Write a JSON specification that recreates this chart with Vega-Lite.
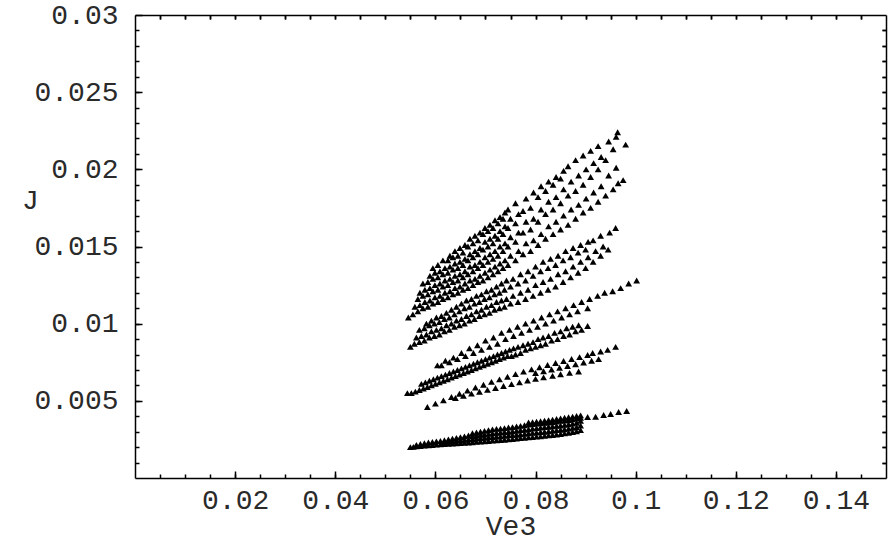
{
"$schema": "https://vega.github.io/schema/vega-lite/v6.json",
"width": 751, "height": 463,
"autosize": {"type": "none"},
"padding": {"left": 135, "top": 15, "right": 3, "bottom": 72},
"background": "white",
"config": {"view": {"stroke": null}},
"data": {"values": [
{"x":0.0546,"y":0.0104},
{"x":0.0555,"y":0.0106},{"x":0.0559,"y":0.0111},
{"x":0.0565,"y":0.0108},{"x":0.0569,"y":0.0112},{"x":0.0565,"y":0.0116},{"x":0.0569,"y":0.012},
{"x":0.0575,"y":0.011},{"x":0.0579,"y":0.0114},{"x":0.0575,"y":0.0118},{"x":0.0579,"y":0.0122},{"x":0.0575,"y":0.0126},
{"x":0.0585,"y":0.0111},{"x":0.0589,"y":0.0115},{"x":0.0585,"y":0.0119},{"x":0.0589,"y":0.0123},{"x":0.0585,"y":0.0127},{"x":0.0589,"y":0.0131},
{"x":0.0595,"y":0.0113},{"x":0.0599,"y":0.0117},{"x":0.0595,"y":0.0121},{"x":0.0599,"y":0.0125},{"x":0.0595,"y":0.0129},{"x":0.0599,"y":0.0133},{"x":0.0595,"y":0.0136},
{"x":0.0605,"y":0.0114},{"x":0.0609,"y":0.0118},{"x":0.0605,"y":0.0122},{"x":0.0609,"y":0.0126},{"x":0.0605,"y":0.013},{"x":0.0609,"y":0.0134},{"x":0.0605,"y":0.0138},
{"x":0.0615,"y":0.0116},{"x":0.0619,"y":0.012},{"x":0.0615,"y":0.0124},{"x":0.0619,"y":0.0128},{"x":0.0615,"y":0.0132},{"x":0.0619,"y":0.0136},{"x":0.0615,"y":0.0141},
{"x":0.0625,"y":0.0117},{"x":0.0629,"y":0.0121},{"x":0.0625,"y":0.0125},{"x":0.0629,"y":0.0129},{"x":0.0625,"y":0.0133},{"x":0.0629,"y":0.0137},{"x":0.0625,"y":0.0141},{"x":0.0629,"y":0.0144},
{"x":0.0635,"y":0.0119},{"x":0.0639,"y":0.0123},{"x":0.0635,"y":0.0127},{"x":0.0639,"y":0.0131},{"x":0.0635,"y":0.0135},{"x":0.0639,"y":0.0139},{"x":0.0635,"y":0.0143},{"x":0.0639,"y":0.0147},
{"x":0.0645,"y":0.012},{"x":0.0649,"y":0.0124},{"x":0.0645,"y":0.0128},{"x":0.0649,"y":0.0132},{"x":0.0645,"y":0.0136},{"x":0.0649,"y":0.014},{"x":0.0645,"y":0.0144},{"x":0.0649,"y":0.0149},
{"x":0.0655,"y":0.0122},{"x":0.0659,"y":0.0126},{"x":0.0655,"y":0.013},{"x":0.0659,"y":0.0134},{"x":0.0655,"y":0.0138},{"x":0.0659,"y":0.0142},{"x":0.0655,"y":0.0146},{"x":0.0659,"y":0.0151},
{"x":0.0665,"y":0.0123},{"x":0.0669,"y":0.0128},{"x":0.0665,"y":0.0132},{"x":0.0669,"y":0.0137},{"x":0.0665,"y":0.0141},{"x":0.0669,"y":0.0145},{"x":0.0665,"y":0.015},{"x":0.0669,"y":0.0155},
{"x":0.0675,"y":0.0125},{"x":0.0679,"y":0.0129},{"x":0.0675,"y":0.0134},{"x":0.0679,"y":0.0138},{"x":0.0675,"y":0.0143},{"x":0.0679,"y":0.0147},{"x":0.0675,"y":0.0152},{"x":0.0679,"y":0.0157},
{"x":0.0685,"y":0.0127},{"x":0.0689,"y":0.0131},{"x":0.0685,"y":0.0136},{"x":0.0689,"y":0.014},{"x":0.0685,"y":0.0145},{"x":0.0689,"y":0.0149},{"x":0.0685,"y":0.0154},{"x":0.0689,"y":0.0159},
{"x":0.0695,"y":0.0128},{"x":0.0699,"y":0.0133},{"x":0.0695,"y":0.0138},{"x":0.0699,"y":0.0143},{"x":0.0695,"y":0.0148},{"x":0.0699,"y":0.0153},{"x":0.0695,"y":0.0158},{"x":0.0699,"y":0.0162},
{"x":0.0705,"y":0.013},{"x":0.0709,"y":0.0135},{"x":0.0705,"y":0.014},{"x":0.0709,"y":0.0145},{"x":0.0705,"y":0.015},{"x":0.0709,"y":0.0155},{"x":0.0705,"y":0.016},{"x":0.0709,"y":0.0164},
{"x":0.0715,"y":0.0132},{"x":0.0719,"y":0.0137},{"x":0.0715,"y":0.0142},{"x":0.0719,"y":0.0147},{"x":0.0715,"y":0.0152},{"x":0.0719,"y":0.0157},{"x":0.0715,"y":0.0162},{"x":0.0719,"y":0.0167},
{"x":0.0725,"y":0.0134},{"x":0.0729,"y":0.0139},{"x":0.0725,"y":0.0144},{"x":0.0729,"y":0.015},{"x":0.0725,"y":0.0155},{"x":0.0729,"y":0.016},{"x":0.0725,"y":0.0165},{"x":0.0729,"y":0.0169},
{"x":0.0735,"y":0.0136},{"x":0.0739,"y":0.0141},{"x":0.0735,"y":0.0147},{"x":0.0739,"y":0.0152},{"x":0.0735,"y":0.0158},{"x":0.0739,"y":0.0163},{"x":0.0735,"y":0.0168},{"x":0.0739,"y":0.0172},
{"x":0.0745,"y":0.0138},{"x":0.075,"y":0.0144},{"x":0.0745,"y":0.015},{"x":0.075,"y":0.0156},{"x":0.0745,"y":0.0162},{"x":0.075,"y":0.0168},{"x":0.0745,"y":0.0174},
{"x":0.076,"y":0.0141},{"x":0.0766,"y":0.0147},{"x":0.076,"y":0.0153},{"x":0.0766,"y":0.0159},{"x":0.076,"y":0.0165},{"x":0.0766,"y":0.0171},{"x":0.076,"y":0.0178},
{"x":0.0775,"y":0.0145},{"x":0.0781,"y":0.0152},{"x":0.0775,"y":0.0159},{"x":0.0781,"y":0.0166},{"x":0.0775,"y":0.0173},{"x":0.0781,"y":0.0181},
{"x":0.079,"y":0.0147},{"x":0.0796,"y":0.0154},{"x":0.079,"y":0.0161},{"x":0.0796,"y":0.0168},{"x":0.079,"y":0.0175},{"x":0.0796,"y":0.0185},
{"x":0.0805,"y":0.0151},{"x":0.0811,"y":0.0158},{"x":0.0805,"y":0.0166},{"x":0.0811,"y":0.0174},{"x":0.0805,"y":0.0182},{"x":0.0811,"y":0.0189},
{"x":0.082,"y":0.0155},{"x":0.0826,"y":0.0163},{"x":0.082,"y":0.0171},{"x":0.0826,"y":0.0179},{"x":0.082,"y":0.0186},{"x":0.0826,"y":0.0192},
{"x":0.0835,"y":0.0158},{"x":0.0841,"y":0.0166},{"x":0.0835,"y":0.0174},{"x":0.0841,"y":0.0182},{"x":0.0835,"y":0.019},{"x":0.0841,"y":0.0195},
{"x":0.085,"y":0.0161},{"x":0.0856,"y":0.017},{"x":0.085,"y":0.0178},{"x":0.0856,"y":0.0187},{"x":0.085,"y":0.0194},{"x":0.0856,"y":0.0199},
{"x":0.0865,"y":0.0164},{"x":0.0871,"y":0.0174},{"x":0.0865,"y":0.0183},{"x":0.0871,"y":0.0192},{"x":0.0865,"y":0.0202},
{"x":0.088,"y":0.0168},{"x":0.0886,"y":0.0177},{"x":0.088,"y":0.0186},{"x":0.0886,"y":0.0196},{"x":0.088,"y":0.0206},
{"x":0.0895,"y":0.0172},{"x":0.0901,"y":0.0181},{"x":0.0895,"y":0.019},{"x":0.0901,"y":0.02},{"x":0.0895,"y":0.0209},
{"x":0.091,"y":0.0175},{"x":0.0916,"y":0.0185},{"x":0.091,"y":0.0195},{"x":0.0916,"y":0.0204},{"x":0.091,"y":0.0212},
{"x":0.0925,"y":0.0179},{"x":0.0931,"y":0.0189},{"x":0.0925,"y":0.02},{"x":0.0931,"y":0.0208},{"x":0.0925,"y":0.0215},
{"x":0.094,"y":0.0183},{"x":0.0946,"y":0.0196},{"x":0.094,"y":0.0206},{"x":0.0946,"y":0.0218},
{"x":0.0955,"y":0.0187},{"x":0.0961,"y":0.0201},{"x":0.0955,"y":0.0213},{"x":0.0961,"y":0.0221},
{"x":0.0965,"y":0.0191},{"x":0.0964,"y":0.0224},
{"x":0.0975,"y":0.0193},{"x":0.098,"y":0.0216},
{"x":0.055,"y":0.0085},
{"x":0.0558,"y":0.0087},{"x":0.0562,"y":0.0091},
{"x":0.0568,"y":0.0088},{"x":0.0572,"y":0.0092},{"x":0.0568,"y":0.0096},
{"x":0.0578,"y":0.0089},{"x":0.0582,"y":0.0093},{"x":0.0578,"y":0.0097},{"x":0.0582,"y":0.01},
{"x":0.0588,"y":0.0091},{"x":0.0592,"y":0.0095},{"x":0.0588,"y":0.0099},{"x":0.0592,"y":0.0102},
{"x":0.0598,"y":0.0092},{"x":0.0602,"y":0.0096},{"x":0.0598,"y":0.01},{"x":0.0602,"y":0.0104},
{"x":0.0608,"y":0.0093},{"x":0.0612,"y":0.0097},{"x":0.0608,"y":0.0101},{"x":0.0612,"y":0.0105},
{"x":0.0618,"y":0.0095},{"x":0.0622,"y":0.0099},{"x":0.0618,"y":0.0103},{"x":0.0622,"y":0.0107},
{"x":0.0628,"y":0.0096},{"x":0.0632,"y":0.01},{"x":0.0628,"y":0.0104},{"x":0.0632,"y":0.0109},
{"x":0.0638,"y":0.0098},{"x":0.0642,"y":0.0102},{"x":0.0638,"y":0.0106},{"x":0.0642,"y":0.0111},
{"x":0.0648,"y":0.0099},{"x":0.0652,"y":0.0103},{"x":0.0648,"y":0.0108},{"x":0.0652,"y":0.0113},
{"x":0.0658,"y":0.01},{"x":0.0662,"y":0.0105},{"x":0.0658,"y":0.011},{"x":0.0662,"y":0.0115},
{"x":0.0668,"y":0.0102},{"x":0.0672,"y":0.0106},{"x":0.0668,"y":0.0111},{"x":0.0672,"y":0.0116},
{"x":0.0678,"y":0.0103},{"x":0.0682,"y":0.0108},{"x":0.0678,"y":0.0113},{"x":0.0682,"y":0.0118},
{"x":0.0688,"y":0.0105},{"x":0.0692,"y":0.0109},{"x":0.0688,"y":0.0114},{"x":0.0692,"y":0.0119},
{"x":0.0698,"y":0.0106},{"x":0.0702,"y":0.0111},{"x":0.0698,"y":0.0116},{"x":0.0702,"y":0.0121},
{"x":0.0708,"y":0.0107},{"x":0.0712,"y":0.0112},{"x":0.0708,"y":0.0117},{"x":0.0712,"y":0.0122},
{"x":0.0718,"y":0.0109},{"x":0.0722,"y":0.0114},{"x":0.0718,"y":0.0119},{"x":0.0722,"y":0.0124},
{"x":0.0728,"y":0.011},{"x":0.0732,"y":0.0115},{"x":0.0728,"y":0.012},{"x":0.0732,"y":0.0126},
{"x":0.0738,"y":0.0111},{"x":0.0742,"y":0.0116},{"x":0.0738,"y":0.0122},{"x":0.0742,"y":0.0128},
{"x":0.075,"y":0.0113},{"x":0.0755,"y":0.0118},{"x":0.075,"y":0.0124},{"x":0.0755,"y":0.0129},
{"x":0.0765,"y":0.0114},{"x":0.077,"y":0.012},{"x":0.0765,"y":0.0126},{"x":0.077,"y":0.0132},
{"x":0.078,"y":0.0116},{"x":0.0785,"y":0.0122},{"x":0.078,"y":0.0128},{"x":0.0785,"y":0.0134},
{"x":0.0795,"y":0.0118},{"x":0.08,"y":0.0125},{"x":0.0795,"y":0.0131},{"x":0.08,"y":0.0137},
{"x":0.081,"y":0.012},{"x":0.0815,"y":0.0127},{"x":0.081,"y":0.0134},{"x":0.0815,"y":0.014},
{"x":0.0825,"y":0.0122},{"x":0.083,"y":0.0129},{"x":0.0825,"y":0.0136},{"x":0.083,"y":0.0142},
{"x":0.084,"y":0.0124},{"x":0.0845,"y":0.0132},{"x":0.084,"y":0.0138},{"x":0.0845,"y":0.0144},
{"x":0.0855,"y":0.0127},{"x":0.086,"y":0.0134},{"x":0.0855,"y":0.0141},{"x":0.086,"y":0.0147},
{"x":0.087,"y":0.013},{"x":0.0875,"y":0.0137},{"x":0.087,"y":0.0143},{"x":0.0875,"y":0.0149},
{"x":0.0885,"y":0.0133},{"x":0.089,"y":0.014},{"x":0.0885,"y":0.0146},{"x":0.089,"y":0.0151},
{"x":0.09,"y":0.0136},{"x":0.0905,"y":0.0143},{"x":0.09,"y":0.0148},{"x":0.0905,"y":0.0153},
{"x":0.0915,"y":0.014},{"x":0.092,"y":0.0147},{"x":0.0915,"y":0.0154},
{"x":0.093,"y":0.0144},{"x":0.0935,"y":0.015},{"x":0.093,"y":0.0157},
{"x":0.0945,"y":0.0148},{"x":0.0948,"y":0.0159},
{"x":0.096,"y":0.0162},
{"x":0.0544,"y":0.0055},{"x":0.0552,"y":0.0055},{"x":0.056,"y":0.0056},{"x":0.0568,"y":0.0057},{"x":0.0576,"y":0.0058},{"x":0.0584,"y":0.0059},{"x":0.0592,"y":0.006},{"x":0.06,"y":0.0061},{"x":0.0608,"y":0.0062},{"x":0.0616,"y":0.0063},{"x":0.0624,"y":0.0064},{"x":0.0632,"y":0.0065},{"x":0.064,"y":0.0066},{"x":0.0648,"y":0.0067},{"x":0.0656,"y":0.0068},{"x":0.0664,"y":0.0069},{"x":0.0672,"y":0.007},{"x":0.068,"y":0.0071},{"x":0.0688,"y":0.0072},{"x":0.0696,"y":0.0073},{"x":0.0704,"y":0.0074},{"x":0.0712,"y":0.0075},{"x":0.072,"y":0.0076},{"x":0.0728,"y":0.0077},{"x":0.0736,"y":0.0078},{"x":0.0744,"y":0.0079},{"x":0.0752,"y":0.0079},{"x":0.076,"y":0.008},{"x":0.077,"y":0.0081},{"x":0.078,"y":0.0083},{"x":0.079,"y":0.0084},{"x":0.08,"y":0.0085},{"x":0.081,"y":0.0086},{"x":0.082,"y":0.0087},{"x":0.0832,"y":0.0089},{"x":0.0844,"y":0.009},{"x":0.0856,"y":0.0092},{"x":0.0868,"y":0.0093},{"x":0.088,"y":0.0095},{"x":0.0892,"y":0.0096},{"x":0.0904,"y":0.00985},
{"x":0.0572,"y":0.0061},{"x":0.058,"y":0.0062},{"x":0.0588,"y":0.0063},{"x":0.0596,"y":0.0064},{"x":0.0604,"y":0.0065},{"x":0.0612,"y":0.0066},{"x":0.062,"y":0.0067},{"x":0.0628,"y":0.0068},{"x":0.0636,"y":0.0069},{"x":0.0644,"y":0.007},{"x":0.0652,"y":0.0071},{"x":0.066,"y":0.0072},{"x":0.0668,"y":0.0073},{"x":0.0676,"y":0.0074},{"x":0.0684,"y":0.0075},{"x":0.0692,"y":0.0076},{"x":0.07,"y":0.0077},{"x":0.0708,"y":0.0078},{"x":0.0716,"y":0.0079},{"x":0.0724,"y":0.008},{"x":0.0732,"y":0.0081},{"x":0.074,"y":0.0082},{"x":0.0748,"y":0.0083},{"x":0.0756,"y":0.0084},{"x":0.0765,"y":0.0085},{"x":0.0775,"y":0.0086},{"x":0.0785,"y":0.0087},{"x":0.0795,"y":0.0088},{"x":0.0805,"y":0.009},{"x":0.0815,"y":0.0091},{"x":0.0826,"y":0.0092},{"x":0.0838,"y":0.0094},{"x":0.085,"y":0.0095},{"x":0.0862,"y":0.0097},{"x":0.0874,"y":0.0098},{"x":0.0886,"y":0.0099},
{"x":0.0604,"y":0.0073},{"x":0.062,"y":0.0076},{"x":0.0636,"y":0.0078},{"x":0.0652,"y":0.0081},{"x":0.0668,"y":0.0084},{"x":0.0684,"y":0.0086},{"x":0.07,"y":0.0089},{"x":0.0716,"y":0.0091},{"x":0.0732,"y":0.0094},{"x":0.0748,"y":0.0096},{"x":0.0764,"y":0.0098},{"x":0.078,"y":0.01},{"x":0.0796,"y":0.0102},{"x":0.0812,"y":0.0104},{"x":0.0828,"y":0.0106},{"x":0.0844,"y":0.0108},{"x":0.086,"y":0.011},{"x":0.0876,"y":0.0112},{"x":0.0892,"y":0.0114},{"x":0.0908,"y":0.0116},{"x":0.0924,"y":0.0118},{"x":0.0938,"y":0.012},{"x":0.0954,"y":0.0121},{"x":0.097,"y":0.0123},{"x":0.0986,"y":0.0126},{"x":0.1002,"y":0.0128},
{"x":0.0612,"y":0.0073},{"x":0.0628,"y":0.0075},{"x":0.0644,"y":0.0077},{"x":0.066,"y":0.0079},{"x":0.0676,"y":0.0081},{"x":0.0692,"y":0.0083},{"x":0.0708,"y":0.0085},{"x":0.0724,"y":0.0087},{"x":0.074,"y":0.009},{"x":0.0756,"y":0.0092},{"x":0.0772,"y":0.0094},{"x":0.0788,"y":0.0096},{"x":0.0804,"y":0.0098},{"x":0.082,"y":0.01},{"x":0.0836,"y":0.0102},{"x":0.0852,"y":0.0104},{"x":0.0868,"y":0.0106},{"x":0.0884,"y":0.0108},{"x":0.0904,"y":0.011},
{"x":0.0584,"y":0.0046},{"x":0.06,"y":0.00482},{"x":0.0616,"y":0.00503},{"x":0.0632,"y":0.00525},{"x":0.0648,"y":0.00546},{"x":0.0664,"y":0.00566},{"x":0.068,"y":0.00586},{"x":0.0696,"y":0.00604},{"x":0.0712,"y":0.00623},{"x":0.0728,"y":0.00639},{"x":0.0744,"y":0.00656},{"x":0.076,"y":0.00673},{"x":0.0776,"y":0.00689},{"x":0.0792,"y":0.00704},{"x":0.0808,"y":0.00718},{"x":0.0824,"y":0.00732},{"x":0.084,"y":0.00745},{"x":0.0856,"y":0.00758},{"x":0.0872,"y":0.00771},{"x":0.0888,"y":0.00783},{"x":0.0904,"y":0.00797},{"x":0.0914,"y":0.0081},{"x":0.093,"y":0.0082},{"x":0.0944,"y":0.0083},{"x":0.096,"y":0.0085},
{"x":0.064,"y":0.00518},{"x":0.0656,"y":0.00533},{"x":0.0672,"y":0.00547},{"x":0.0688,"y":0.00559},{"x":0.0704,"y":0.00571},{"x":0.072,"y":0.00583},{"x":0.0736,"y":0.00596},{"x":0.0752,"y":0.00608},{"x":0.0768,"y":0.0062},{"x":0.0784,"y":0.00632},{"x":0.08,"y":0.00642},{"x":0.0816,"y":0.00652},{"x":0.0834,"y":0.00662},{"x":0.085,"y":0.00672},{"x":0.0868,"y":0.00681},{"x":0.0886,"y":0.0069},
{"x":0.08,"y":0.0068},{"x":0.0816,"y":0.00692},{"x":0.0832,"y":0.00703},{"x":0.0848,"y":0.00714},{"x":0.0864,"y":0.00726},{"x":0.088,"y":0.00737},{"x":0.0896,"y":0.00748},{"x":0.0912,"y":0.0076},{"x":0.0926,"y":0.0077},
{"x":0.055,"y":0.002},{"x":0.0556,"y":0.00202},
{"x":0.0562,"y":0.00205},{"x":0.0562,"y":0.00215},
{"x":0.057,"y":0.00207},{"x":0.057,"y":0.0022},
{"x":0.0578,"y":0.0021},{"x":0.0578,"y":0.00225},
{"x":0.0586,"y":0.00212},{"x":0.0586,"y":0.0023},
{"x":0.0594,"y":0.00214},{"x":0.0594,"y":0.00233},
{"x":0.0602,"y":0.00216},{"x":0.0602,"y":0.00237},
{"x":0.061,"y":0.00218},{"x":0.061,"y":0.0024},
{"x":0.0618,"y":0.0022},{"x":0.0618,"y":0.00232},{"x":0.0618,"y":0.00245},
{"x":0.0626,"y":0.00221},{"x":0.0626,"y":0.00236},{"x":0.0626,"y":0.0025},
{"x":0.0634,"y":0.00223},{"x":0.0634,"y":0.0024},{"x":0.0634,"y":0.00255},
{"x":0.0642,"y":0.00224},{"x":0.0642,"y":0.00242},{"x":0.0642,"y":0.0026},
{"x":0.065,"y":0.00226},{"x":0.065,"y":0.00245},{"x":0.065,"y":0.00265},
{"x":0.0658,"y":0.00228},{"x":0.0658,"y":0.00248},{"x":0.0658,"y":0.0027},
{"x":0.0666,"y":0.0023},{"x":0.0666,"y":0.0025},{"x":0.0666,"y":0.00275},
{"x":0.0674,"y":0.00232},{"x":0.0674,"y":0.00252},{"x":0.0674,"y":0.00272},{"x":0.0674,"y":0.0029},
{"x":0.0682,"y":0.00234},{"x":0.0682,"y":0.00255},{"x":0.0682,"y":0.00275},{"x":0.0682,"y":0.00295},
{"x":0.069,"y":0.00236},{"x":0.069,"y":0.00258},{"x":0.069,"y":0.0028},{"x":0.069,"y":0.003},
{"x":0.0698,"y":0.00238},{"x":0.0698,"y":0.0026},{"x":0.0698,"y":0.00282},{"x":0.0698,"y":0.00305},
{"x":0.0706,"y":0.0024},{"x":0.0706,"y":0.00263},{"x":0.0706,"y":0.00286},{"x":0.0706,"y":0.0031},
{"x":0.0714,"y":0.00242},{"x":0.0714,"y":0.00266},{"x":0.0714,"y":0.0029},{"x":0.0714,"y":0.00315},
{"x":0.0722,"y":0.00244},{"x":0.0722,"y":0.00268},{"x":0.0722,"y":0.00292},{"x":0.0722,"y":0.00318},
{"x":0.073,"y":0.00246},{"x":0.073,"y":0.0027},{"x":0.073,"y":0.00295},{"x":0.073,"y":0.0032},
{"x":0.0738,"y":0.00248},{"x":0.0738,"y":0.00273},{"x":0.0738,"y":0.00298},{"x":0.0738,"y":0.00323},
{"x":0.0746,"y":0.0025},{"x":0.0746,"y":0.00276},{"x":0.0746,"y":0.003},{"x":0.0746,"y":0.00327},
{"x":0.0754,"y":0.00253},{"x":0.0754,"y":0.00278},{"x":0.0754,"y":0.00303},{"x":0.0754,"y":0.0033},
{"x":0.0762,"y":0.00255},{"x":0.0762,"y":0.0028},{"x":0.0762,"y":0.00306},{"x":0.0762,"y":0.00334},
{"x":0.077,"y":0.00258},{"x":0.077,"y":0.00283},{"x":0.077,"y":0.0031},{"x":0.077,"y":0.00338},
{"x":0.0778,"y":0.0026},{"x":0.0778,"y":0.00286},{"x":0.0778,"y":0.00313},{"x":0.0778,"y":0.00342},
{"x":0.0786,"y":0.00263},{"x":0.0786,"y":0.0029},{"x":0.0786,"y":0.00316},{"x":0.0786,"y":0.00346},{"x":0.0786,"y":0.0036},
{"x":0.0794,"y":0.00265},{"x":0.0794,"y":0.00292},{"x":0.0794,"y":0.0032},{"x":0.0794,"y":0.0035},{"x":0.0794,"y":0.00362},
{"x":0.0802,"y":0.00268},{"x":0.0802,"y":0.00295},{"x":0.0802,"y":0.00323},{"x":0.0802,"y":0.00352},{"x":0.0802,"y":0.00365},
{"x":0.081,"y":0.0027},{"x":0.081,"y":0.00298},{"x":0.081,"y":0.00326},{"x":0.081,"y":0.00355},{"x":0.081,"y":0.00368},
{"x":0.0818,"y":0.00273},{"x":0.0818,"y":0.003},{"x":0.0818,"y":0.0033},{"x":0.0818,"y":0.00358},{"x":0.0818,"y":0.00372},
{"x":0.0826,"y":0.00276},{"x":0.0826,"y":0.00303},{"x":0.0826,"y":0.00332},{"x":0.0826,"y":0.0036},{"x":0.0826,"y":0.00375},
{"x":0.0834,"y":0.00279},{"x":0.0834,"y":0.00306},{"x":0.0834,"y":0.00335},{"x":0.0834,"y":0.00363},{"x":0.0834,"y":0.00378},
{"x":0.0842,"y":0.00282},{"x":0.0842,"y":0.0031},{"x":0.0842,"y":0.00338},{"x":0.0842,"y":0.00366},{"x":0.0842,"y":0.00382},
{"x":0.085,"y":0.00285},{"x":0.085,"y":0.00313},{"x":0.085,"y":0.0034},{"x":0.085,"y":0.0037},{"x":0.085,"y":0.00386},
{"x":0.0858,"y":0.00289},{"x":0.0858,"y":0.00316},{"x":0.0858,"y":0.00344},{"x":0.0858,"y":0.00372},{"x":0.0858,"y":0.0039},
{"x":0.0866,"y":0.00293},{"x":0.0866,"y":0.0032},{"x":0.0866,"y":0.00348},{"x":0.0866,"y":0.00376},{"x":0.0866,"y":0.00394},
{"x":0.0874,"y":0.00298},{"x":0.0874,"y":0.00325},{"x":0.0874,"y":0.00352},{"x":0.0874,"y":0.0038},{"x":0.0874,"y":0.00398},
{"x":0.0882,"y":0.00303},{"x":0.0882,"y":0.0033},{"x":0.0882,"y":0.00358},{"x":0.0882,"y":0.00385},{"x":0.0882,"y":0.00402},
{"x":0.089,"y":0.0031},{"x":0.089,"y":0.0034},{"x":0.089,"y":0.0037},{"x":0.089,"y":0.0039},{"x":0.089,"y":0.00406},
{"x":0.0904,"y":0.00395},{"x":0.092,"y":0.00397},{"x":0.0936,"y":0.00408},{"x":0.095,"y":0.00415},{"x":0.0966,"y":0.00428},{"x":0.0982,"y":0.00434}
]},
"layer": [
{
"mark": {"type": "point", "shape": "triangle-up", "filled": true, "color": "black", "size": 46, "opacity": 1},
"encoding": {
"x": {"field": "x", "type": "quantitative",
"scale": {"domain": [0, 0.15], "nice": false, "zero": false},
"axis": {"orient": "bottom", "values": [0.02,0.04,0.06,0.08,0.1,0.12,0.14], "grid": false,
"domain": true, "domainColor": "black", "domainWidth": 1.5,
"ticks": true, "tickColor": "black", "tickWidth": 1.5, "tickSize": -7,
"format": ".2~f", "labelPadding": 15,
"labelFont": "Liberation Mono", "labelFontSize": 28, "labelColor": "#2a2a2a", "labelOverlap": false, "labelFlush": false,
"title": "Ve3", "titleY": 48, "titleBaseline": "middle", "titleFont": "Liberation Mono", "titleFontSize": 28, "titleFontWeight": "normal", "titleColor": "#2a2a2a"}},
"y": {"field": "y", "type": "quantitative",
"scale": {"domain": [0, 0.03], "nice": false, "zero": false},
"axis": {"orient": "left", "values": [0.005,0.01,0.015,0.02,0.025,0.03], "grid": false,
"domain": true, "domainColor": "black", "domainWidth": 1.5,
"ticks": true, "tickColor": "black", "tickWidth": 1.5, "tickSize": -7,
"format": ".3~f", "labelPadding": 24,
"labelFont": "Liberation Mono", "labelFontSize": 28, "labelColor": "#2a2a2a", "labelOverlap": false, "labelFlush": false,
"title": "J", "titleAngle": 0, "titleX": -105, "titleY": 185, "titleAlign": "center", "titleBaseline": "middle", "titleFont": "Liberation Mono", "titleFontSize": 28, "titleFontWeight": "normal", "titleColor": "#2a2a2a"}}
}
},
{
"data": {"values": [{"x": 0.05, "y": 0.01}]},
"mark": {"type": "point", "opacity": 0},
"encoding": {
"x": {"field": "x", "type": "quantitative", "scale": {"domain": [0, 0.15], "nice": false, "zero": false},
"axis": {"orient": "top", "values": [0.005,0.01,0.015,0.02,0.025,0.03,0.035,0.04,0.045,0.05,0.055,0.06,0.065,0.07,0.075,0.08,0.085,0.09,0.095,0.1,0.105,0.11,0.115,0.12,0.125,0.13,0.135,0.14,0.145],
"grid": true, "gridColor": "black", "gridOpacity": 1, "gridWidth": 1.5, "gridDash": [4, 455, 4, 0],
"domain": true, "domainColor": "black", "domainWidth": 1.5,
"ticks": true, "tickColor": "black", "tickWidth": 1.5, "tickSize": -4, "labels": false, "title": null}},
"y": {"field": "y", "type": "quantitative", "scale": {"domain": [0, 0.03], "nice": false, "zero": false},
"axis": {"orient": "right", "values": [0.001,0.002,0.003,0.004,0.005,0.006,0.007,0.008,0.009,0.01,0.011,0.012,0.013,0.014,0.015,0.016,0.017,0.018,0.019,0.02,0.021,0.022,0.023,0.024,0.025,0.026,0.027,0.028,0.029],
"grid": true, "gridColor": "black", "gridOpacity": 1, "gridWidth": 1.5, "gridDash": [4, 743, 4, 0],
"domain": true, "domainColor": "black", "domainWidth": 1.5,
"ticks": true, "tickColor": "black", "tickWidth": 1.5, "tickSize": -4, "labels": false, "title": null}}
}
}
],
"resolve": {"axis": {"x": "independent", "y": "independent"}}
}
